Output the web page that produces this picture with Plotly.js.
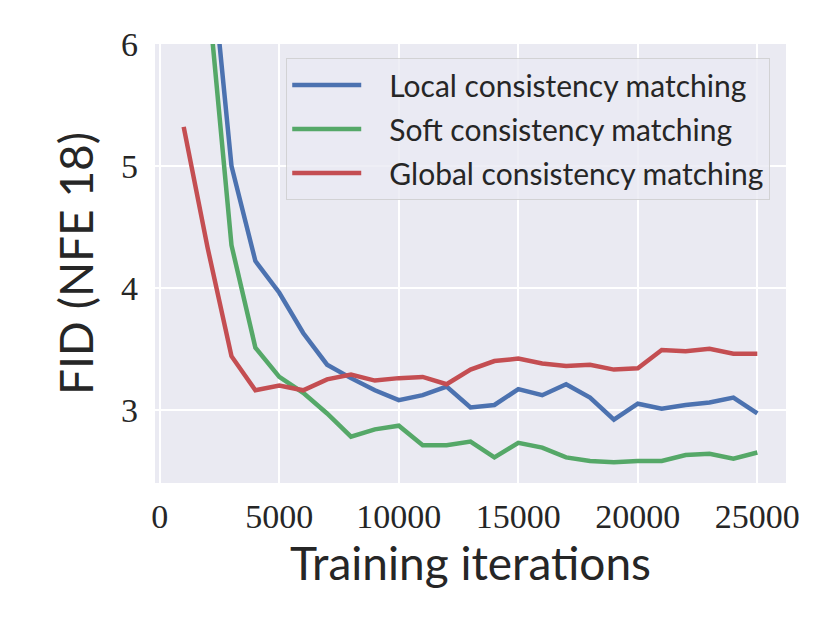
<!DOCTYPE html>
<html>
<head>
<meta charset="utf-8">
<script src="https://cdn.plot.ly/plotly-3.0.1.min.js"></script>
<style>html,body{margin:0;padding:0;background:#fff;}#chart{width:830px;height:623px;}</style>
</head>
<body>
<div id="chart"></div>
<script>
const iterations = [1000,2000,3000,4000,5000,6000,7000,8000,9000,10000,11000,12000,13000,14000,15000,16000,17000,18000,19000,20000,21000,22000,23000,24000,25000];
const localFID = [null,7.0,5.0,4.22,3.96,3.63,3.37,3.26,3.16,3.08,3.12,3.19,3.02,3.04,3.17,3.12,3.21,3.10,2.92,3.05,3.01,3.04,3.06,3.10,2.97];
const softFID = [null,6.46,4.35,3.51,3.27,3.14,2.97,2.78,2.84,2.87,2.71,2.71,2.74,2.61,2.73,2.69,2.61,2.58,2.57,2.58,2.58,2.63,2.64,2.60,2.65];
const globalFID = [5.32,4.33,3.44,3.16,3.20,3.16,3.25,3.29,3.24,3.26,3.27,3.21,3.33,3.40,3.42,3.38,3.36,3.37,3.33,3.34,3.49,3.48,3.50,3.46,3.46];
const seriesNames = ["Local consistency matching","Soft consistency matching","Global consistency matching"];
const xTickVals = [0,5000,10000,15000,20000,25000];
const xTickText = ["0","5000","10000","15000","20000","25000"];
const yTickVals = [3,4,5,6];
const yTickText = ["3","4","5","6"];

const colors = ["#4C72B0","#55A868","#C44E52"];
const sans = "Lato, 'Open Sans', sans-serif";
const serif = "'Liberation Serif', 'DejaVu Serif', serif";
const pad = "\u00a0\u00a0\u00a0";

const traces = [localFID, softFID, globalFID].map((ys, i) => ({
  x: iterations, y: ys, type: "scatter", mode: "lines", name: pad + seriesNames[i],
  legendgroup: "g" + i,
  line: {color: colors[i], width: 4.5}, connectgaps: false
}));

const layout = {
  width: 830, height: 623,
  margin: {l: 155, r: 44, t: 44, b: 140, pad: 0},
  paper_bgcolor: "#ffffff",
  plot_bgcolor: "#EAEAF2",
  showlegend: true,
  xaxis: {
    range: [-200, 26200], tickvals: xTickVals, ticktext: xTickText,
    showgrid: true, gridcolor: "#ffffff", gridwidth: 2, zeroline: false, showline: false,
    ticks: "", ticklabelstandoff: 10,
    tickfont: {family: serif, size: 34, color: "#262626"},
    title: {text: "Training iterations", font: {family: sans, size: 46, color: "#262626"}, standoff: 4}
  },
  yaxis: {
    range: [2.4, 6], tickvals: yTickVals, ticktext: yTickText,
    showgrid: true, gridcolor: "#ffffff", gridwidth: 2, zeroline: false, showline: false,
    ticks: "", ticklabelstandoff: 16,
    tickfont: {family: serif, size: 34, color: "#262626"},
    title: {text: "FID (NFE 18)", font: {family: sans, size: 46, color: "#262626"}, standoff: 12}
  },
  legend: {
    x: 0.975, xanchor: "right", y: 0.968, yanchor: "top",
    bgcolor: "rgba(234,234,242,0.8)", bordercolor: "rgba(204,204,204,0.8)", borderwidth: 1,
    font: {family: sans, size: 30, color: "#262626"},
    itemwidth: 69, tracegroupgap: 2
  }
};

Plotly.newPlot("chart", traces, layout, {displayModeBar: false, staticPlot: true});
</script>
</body>
</html>
